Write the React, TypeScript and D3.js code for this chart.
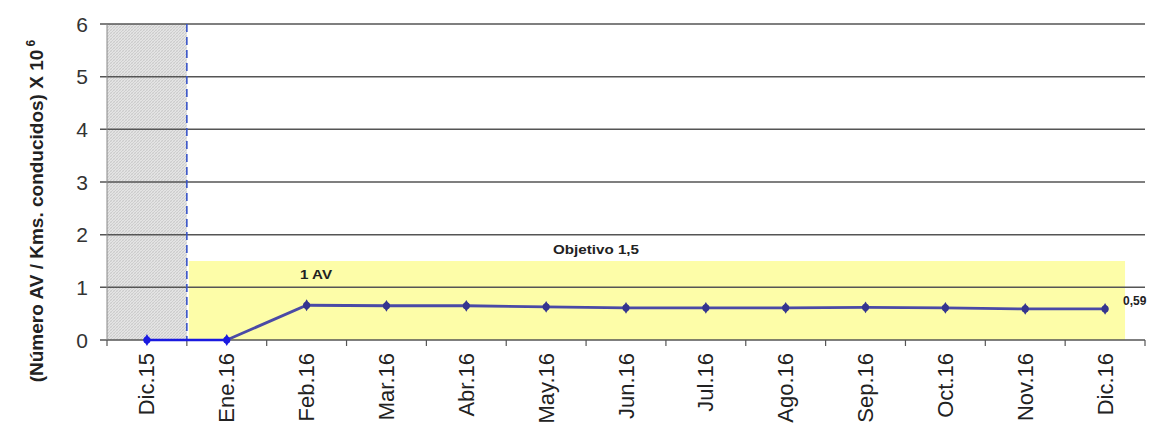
import React from "react";
import * as d3 from "d3";

const months = [
  "Dic.15", "Ene.16", "Feb.16", "Mar.16", "Abr.16", "May.16", "Jun.16",
  "Jul.16", "Ago.16", "Sep.16", "Oct.16", "Nov.16", "Dic.16",
];
const rates = [0, 0, 0.66, 0.65, 0.65, 0.63, 0.61, 0.61, 0.61, 0.62, 0.61, 0.59, 0.59];
const yTicks = [0, 1, 2, 3, 4, 5, 6];
const objective = 1.5;
const lastLabel = "0,59";

const W = 1151;
const H = 429;
const margin = { top: 24, right: 6, bottom: 89, left: 107 };

function App() {
  const x = d3
    .scaleBand<string>()
    .domain(months)
    .range([margin.left, W - margin.right]);
  const y = d3
    .scaleLinear()
    .domain([0, 6])
    .range([H - margin.bottom, margin.top]);
  const cx = (m: string) => (x(m) as number) + x.bandwidth() / 2;

  const pts = months.map((m, i) => ({ m, v: rates[i] }));
  const line = d3
    .line<{ m: string; v: number }>()
    .x((d) => cx(d.m))
    .y((d) => y(d.v));

  const split = x(months[1]) as number;
  const yellowRight = cx(months[months.length - 1]) + x.bandwidth() * 0.25;
  const diamond = d3.symbol().type(d3.symbolDiamond).size(40)() as string;
  const font = "'Liberation Sans', Arial, sans-serif";

  return (
    <svg
      width={W}
      height={H}
      style={{ position: "absolute", left: 0, top: 0, background: "#fff" }}
      fontFamily={font}
    >
      <defs>
        <pattern id="hatch" width="3" height="3" patternUnits="userSpaceOnUse">
          <rect width="3" height="3" fill="#e4e4e4" />
          <path d="M0,3 L3,0" stroke="#c6c6c6" strokeWidth="0.8" />
          <path d="M0,0 L3,3" stroke="#d2d2d2" strokeWidth="0.5" />
        </pattern>
      </defs>

      {/* shaded previous year */}
      <rect
        x={margin.left}
        y={y(6)}
        width={split - margin.left}
        height={y(0) - y(6)}
        fill="url(#hatch)"
      />
      {/* objective band */}
      <rect
        x={split + 2}
        y={y(objective)}
        width={yellowRight - split - 2}
        height={y(0) - y(objective)}
        fill="#fdfda8"
      />

      {/* gridlines */}
      {yTicks.map((t) => (
        <g key={t}>
          <line
            x1={margin.left - 7}
            x2={W - margin.right}
            y1={y(t)}
            y2={y(t)}
            stroke="#555"
            strokeWidth={1.5}
          />
          <text
            x={88}
            y={y(t)}
            dy="0.36em"
            textAnchor="end"
            fontSize={21}
            fill="#333"
          >
            {t}
          </text>
        </g>
      ))}
      <line
        x1={margin.left}
        x2={margin.left}
        y1={y(6)}
        y2={y(0)}
        stroke="#888"
        strokeWidth={1}
      />

      {/* x axis ticks */}
      {months.map((m) => (
        <line
          key={m}
          x1={x(m) as number}
          x2={x(m) as number}
          y1={y(0)}
          y2={y(0) + 6}
          stroke="#555"
          strokeWidth={1.2}
        />
      ))}
      <line
        x1={W - margin.right}
        x2={W - margin.right}
        y1={y(0)}
        y2={y(0) + 6}
        stroke="#555"
        strokeWidth={1.2}
      />

      {/* dashed separator */}
      <line
        x1={split}
        x2={split}
        y1={y(6)}
        y2={y(0)}
        stroke="#3a55c8"
        strokeWidth={1.6}
        strokeDasharray="8,5"
      />

      {/* series */}
      <path d={line(pts.slice(0, 2)) as string} fill="none" stroke="#1a1ae0" strokeWidth={2.6} />
      <path d={line(pts.slice(1)) as string} fill="none" stroke="#4a4aa6" strokeWidth={2.8} />
      {pts.map((d, i) => (
        <g key={d.m} transform={`translate(${cx(d.m)},${y(d.v)})`}>
          <circle r={3.6} fill={i < 2 ? "#1a1ae0" : "#35358f"} />
          <path d={diamond} fill={i < 2 ? "#1a1ae0" : "#35358f"} />
        </g>
      ))}

      {/* annotations */}
      <text x={596} y={254} textAnchor="middle" fontSize={12} fontWeight="bold" fill="#222"
        textLength={86} lengthAdjust="spacingAndGlyphs">
        Objetivo 1,5
      </text>
      <text x={316} y={279} textAnchor="middle" fontSize={12} fontWeight="bold" fill="#222"
        textLength={32} lengthAdjust="spacingAndGlyphs">
        1 AV
      </text>
      <text
        x={1123}
        y={305}
        fontSize={12}
        fontWeight="bold"
        fill="#222"
      >
        {lastLabel}
      </text>

      {/* x labels */}
      {months.map((m) => (
        <text
          key={m}
          transform={`translate(${cx(m) + 7.5},${y(0) + 13}) rotate(-90)`}
          textAnchor="end"
          fontSize={22}
          fill="#222"
        >
          {m}
        </text>
      ))}

      {/* y title */}
      <text
        transform={`translate(43,211) rotate(-90)`}
        textAnchor="middle"
        fontSize={19}
        fontWeight="bold"
        fill="#222"
      >
        (Número AV / Kms. conducidos) X 10
        <tspan dy={-8} fontSize={12}> 6</tspan>
      </text>
    </svg>
  );
}

export default App;
